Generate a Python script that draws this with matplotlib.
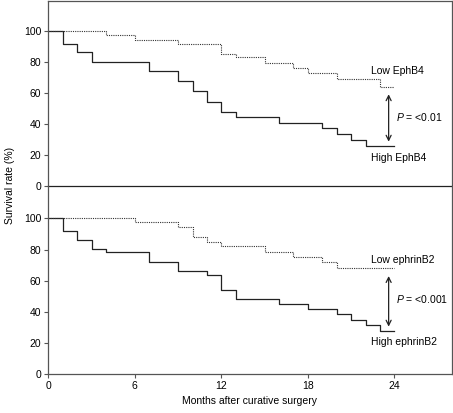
import matplotlib
matplotlib.use("Agg")
import matplotlib.pyplot as plt

plt.rcParams["font.family"] = ["Liberation Sans", "DejaVu Sans"]
plt.rcParams["mathtext.fontset"] = "custom"
plt.rcParams["mathtext.it"] = "Liberation Sans:italic"
plt.rcParams["mathtext.rm"] = "Liberation Sans"

# ─── data (months, survival %) ───
ephb4_high_t = [0, 1, 2, 3, 7, 9, 10, 11, 12, 13, 16, 19, 20, 21, 22, 24]
ephb4_high_s = [100, 91.8, 86.2, 80.2, 74.4, 67.9, 61.5, 54.2, 47.5, 44.7, 40.4, 37.2, 33.3, 29.7, 26.0, 26.0]
ephb4_low_t = [0, 4, 6, 9, 12, 13, 15, 17, 18, 20, 23, 24]
ephb4_low_s = [100, 97.5, 94.2, 91.8, 85.4, 83.0, 79.6, 75.9, 72.7, 68.8, 63.7, 63.7]

efnb2_high_t = [0, 1, 2, 3, 4, 7, 9, 11, 12, 13, 16, 18, 20, 21, 22, 23, 24]
efnb2_high_s = [100, 91.9, 86.1, 80.5, 78.2, 71.9, 66.3, 63.3, 54.1, 48.1, 44.9, 41.7, 38.2, 34.6, 31.2, 27.7, 27.7]
efnb2_low_t = [0, 6, 9, 10, 11, 12, 15, 17, 19, 20, 24]
efnb2_low_s = [100, 97.5, 94.5, 87.8, 84.8, 82.0, 78.6, 75.3, 71.7, 67.9, 67.9]

panels = [
    dict(high=(ephb4_high_t, ephb4_high_s), low=(ephb4_low_t, ephb4_low_s),
         low_lbl="Low EphB4", high_lbl="High EphB4", p="<0.01",
         arrow=(59.2, 28.6), low_y=74.2, high_y=17.8, p_y=44.3, ylim=119.4),
    dict(high=(efnb2_high_t, efnb2_high_s), low=(efnb2_low_t, efnb2_low_s),
         low_lbl="Low ephrinB2", high_lbl="High ephrinB2", p="<0.001",
         arrow=(62.9, 30.3), low_y=73.2, high_y=20.6, p_y=48.3, ylim=120.9),
]

fig = plt.figure(figsize=(4.53, 4.13), dpi=100)
left, right = 0.1066, 0.998
tops = [0.9976, 0.5496]
bottoms = [0.5496, 0.0952]

frame_col = "#555555"
for i, pn in enumerate(panels):
    ax = fig.add_axes([left, bottoms[i], right - left, tops[i] - bottoms[i]])
    ax.set_facecolor("none")
    t, s = pn["high"]
    ax.step(t, s, where="post", color="#222222", lw=0.9)
    t, s = pn["low"]
    ax.step(t, s, where="post", color="#333333", lw=0.8, ls=(0, (1, 1)))

    ax.set_xlim(0, 28)
    ax.set_ylim(0, pn["ylim"])
    ax.set_yticks([0, 20, 40, 60, 80, 100])
    ax.tick_params(axis="both", direction="out", length=3, width=0.8,
                   labelsize=7.5, pad=2, color=frame_col)
    for sp in ax.spines.values():
        sp.set_color(frame_col)
        sp.set_linewidth(0.9)
    if i == 0:
        ax.set_xticks([])
        ax.spines["bottom"].set_color("#222222")
        ax.spines["bottom"].set_zorder(5)
    else:
        ax.spines["top"].set_visible(False)
        ax.set_xticks([0, 6, 12, 18, 24])

    a0, a1 = pn["arrow"]
    ax.annotate("", xy=(23.6, a0), xytext=(23.6, a1),
                arrowprops=dict(arrowstyle="<->", lw=0.9, color="#222222",
                                shrinkA=0, shrinkB=0, mutation_scale=9))
    ax.text(24.1, pn["p_y"], "$\\it{P}\\ $= " + pn["p"], fontsize=7.5,
            va="center", ha="left")
    ax.text(22.4, pn["low_y"], pn["low_lbl"], fontsize=7.5, va="center", ha="left")
    ax.text(22.4, pn["high_y"], pn["high_lbl"], fontsize=7.5, va="center", ha="left")

fig.text(0.022, 0.55, "Survival rate (%)", rotation=90, fontsize=7.5,
         va="center", ha="center")
fig.text(0.55, 0.03, "Months after curative surgery", fontsize=7.5,
         va="center", ha="center")

plt.savefig("out.png", dpi=100)
